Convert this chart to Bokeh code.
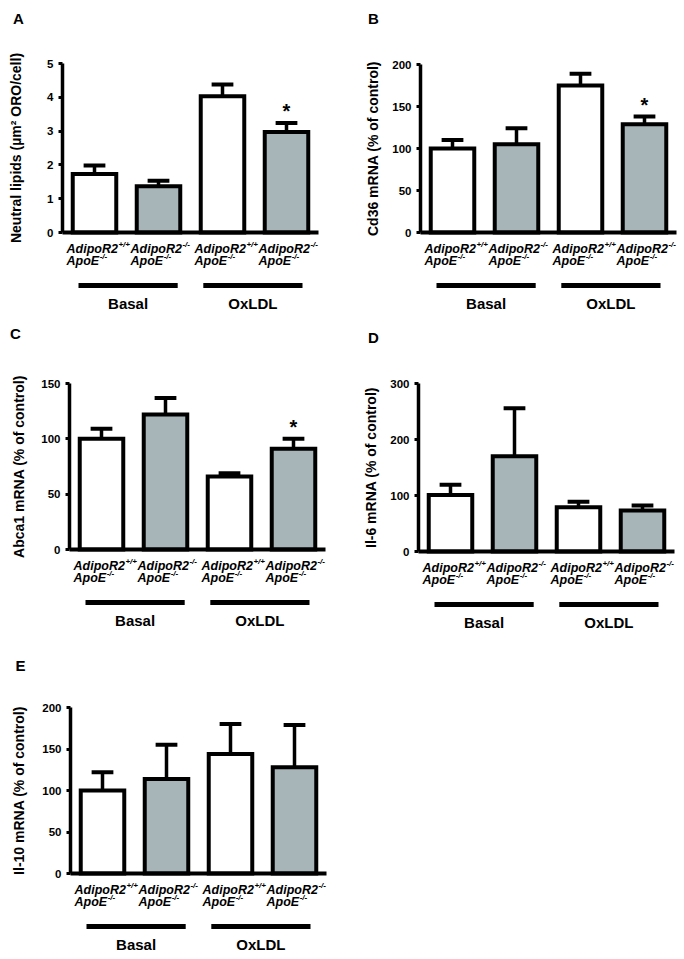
import math
from bokeh.plotting import figure
from bokeh.models import Range1d, FixedTicker
from bokeh.layouts import column, row
from bokeh.embed import file_html
from bokeh.resources import INLINE
from bokeh.core.properties import value

# ---------------- data ----------------
genotype_main = ["AdipoR2", "AdipoR2", "AdipoR2", "AdipoR2"]
genotype_sup = ["+/+", "-/-", "+/+", "-/-"]
background_main = ["ApoE", "ApoE", "ApoE", "ApoE"]
background_sup = ["-/-", "-/-", "-/-", "-/-"]
treatments = ["Basal", "OxLDL"]

lipids_mean = [1.73, 1.37, 4.03, 2.97]
lipids_err = [0.25, 0.16, 0.35, 0.27]
lipids_sig = [False, False, False, True]
lipids_ticks = [0, 1, 2, 3, 4, 5]

cd36_mean = [100, 105, 175, 129]
cd36_err = [10, 19, 14, 9]
cd36_sig = [False, False, False, True]
cd36_ticks = [0, 50, 100, 150, 200]

abca1_mean = [100, 122, 66, 91]
abca1_err = [9, 15, 3, 9]
abca1_sig = [False, False, False, True]
abca1_ticks = [0, 50, 100, 150]

il6_mean = [101, 170, 79, 73]
il6_err = [18, 86, 10, 9]
il6_sig = [False, False, False, False]
il6_ticks = [0, 100, 200, 300]

il10_mean = [100, 114, 144, 128]
il10_err = [22, 41, 36, 51]
il10_sig = [False, False, False, False]
il10_ticks = [0, 50, 100, 150, 200]

# ---------------- style ----------------
FONT = "Liberation Sans"
FILLS = ["white", "#a7b5b9", "white", "#a7b5b9"]
PX = 64.0  # px per category

# Arial/Liberation bold advance widths (1/1000 em)
W = {"A": 722, "d": 611, "i": 278, "p": 611, "o": 611, "R": 722, "2": 556, "E": 667}


def text_w(s, size):
    return sum(W.get(c, 600) for c in s) * size / 1000.0


def txt(p, x, y, t, size, style="bold", align="left", angle=0.0):
    p.text(x=x, y=y, text=t, text_font=value(FONT), text_font_size=value(f"{size}px"),
           text_font_style=style, text_align=align, text_baseline="middle",
           text_color="black", angle=angle)


def panel(letter, ylabel, means, errs, sig, ticks, fig_w, fig_h, axis_x, zero_px, top_px,
          letter_xy, ylabel_x):
    ymax = ticks[-1]
    k = (zero_px - top_px) / ymax  # px per data unit
    X = lambda px: 0.5 + (px - axis_x) / PX       # figure px -> data x
    Y = lambda px: (zero_px - px) / k             # figure px -> data y
    p = figure(width=fig_w, height=fig_h, x_axis_location=None, toolbar_location=None,
               output_backend="svg", min_border_left=0, min_border_right=0,
               min_border_top=0, min_border_bottom=0, outline_line_color=None,
               x_range=Range1d(X(0), X(fig_w)), y_range=Range1d(Y(fig_h), Y(0)))
    p.xgrid.visible = False
    p.ygrid.visible = False
    ax = p.yaxis[0]
    ax.fixed_location = 0.5
    ax.bounds = (0, ymax)
    ax.ticker = FixedTicker(ticks=ticks, minor_ticks=[])
    ax.minor_tick_line_color = None
    ax.major_tick_in = 0
    ax.major_tick_out = 4
    ax.major_tick_line_width = 3
    ax.axis_line_width = 3.5
    ax.axis_line_color = "black"
    ax.major_tick_line_color = "black"
    ax.major_label_text_color = "black"
    ax.major_label_text_font = FONT
    ax.major_label_text_font_style = "bold"
    ax.major_label_text_font_size = "11.5px"
    ax.major_label_standoff = 5

    xs = [i + 1 for i in range(len(means))]
    tops = [m + e for m, e in zip(means, errs)]

    p.vbar(x=xs, top=means, bottom=0, width=0.68, fill_color=FILLS,
           line_color="black", line_width=4, line_join="miter")
    p.segment(x0=xs, y0=means, x1=xs, y1=tops, line_color="black", line_width=3.5)
    p.segment(x0=[x - 0.17 for x in xs], y0=tops, x1=[x + 0.17 for x in xs], y1=tops,
              line_color="black", line_width=4)
    # x axis baseline
    p.segment(x0=[0.5], y0=[0], x1=[4.5], y1=[0], line_color="black", line_width=4)

    # significance stars
    sx = [x for x, s in zip(xs, sig) if s]
    sy = [t + 12 / k for t, s in zip(tops, sig) if s]
    if sx:
        txt(p, sx, sy, ["*"] * len(sx), 20, align="center")

    # category labels (two lines, with superscripts)
    lx = [x - 28 / PX for x in xs]
    ms, ss = 12.5, 8
    z = zero_px
    txt(p, lx, [Y(z + 16)] * 4, genotype_main, ms, "bold italic")
    txt(p, [x + (text_w(t, ms) + 0.5) / PX for x, t in zip(lx, genotype_main)],
        [Y(z + 12)] * 4, genotype_sup, ss, "bold italic")
    txt(p, lx, [Y(z + 28)] * 4, background_main, ms, "bold italic")
    txt(p, [x + (text_w(t, ms) + 0.5) / PX for x, t in zip(lx, background_main)],
        [Y(z + 24)] * 4, background_sup, ss, "bold italic")

    # treatment group bars and names
    p.segment(x0=[0.75, 2.7], y0=[Y(z + 53)] * 2, x1=[2.3, 4.25], y1=[Y(z + 53)] * 2,
              line_color="black", line_width=5, line_cap="butt")
    txt(p, [1.525, 3.475], [Y(z + 71)] * 2, treatments, 15, align="center")

    # y axis title and panel letter
    txt(p, [X(ylabel_x)], [ymax / 2], [ylabel], 14, align="center", angle=math.pi / 2)
    txt(p, [X(letter_xy[0])], [Y(letter_xy[1])], [letter], 15, align="center")
    return p


pA = panel("A", "Neutral lipids (µm² ORO/cell)", lipids_mean, lipids_err, lipids_sig,
           lipids_ticks, 342, 318, 62, 232, 63, (18, 18), 15)
pB = panel("B", "Cd36 mRNA (% of control)", cd36_mean, cd36_err, cd36_sig,
           cd36_ticks, 342, 318, 78, 232, 64, (31, 18), 30)
pC = panel("C", "Abca1 mRNA (% of control)", abca1_mean, abca1_err, abca1_sig,
           abca1_ticks, 342, 312, 69, 231, 65, (15, 15), 18)
pD = panel("D", "Il-6 mRNA (% of control)", il6_mean, il6_err, il6_sig,
           il6_ticks, 342, 312, 76, 233, 65, (31, 19), 28)
pE = panel("E", "Il-10 mRNA (% of control)", il10_mean, il10_err, il10_sig,
           il10_ticks, 342, 329, 70, 243, 77, (20, 35), 18)

layout = column(row(pA, pB), row(pC, pD), pE)
open("out.html", "w").write(file_html(layout, INLINE))
